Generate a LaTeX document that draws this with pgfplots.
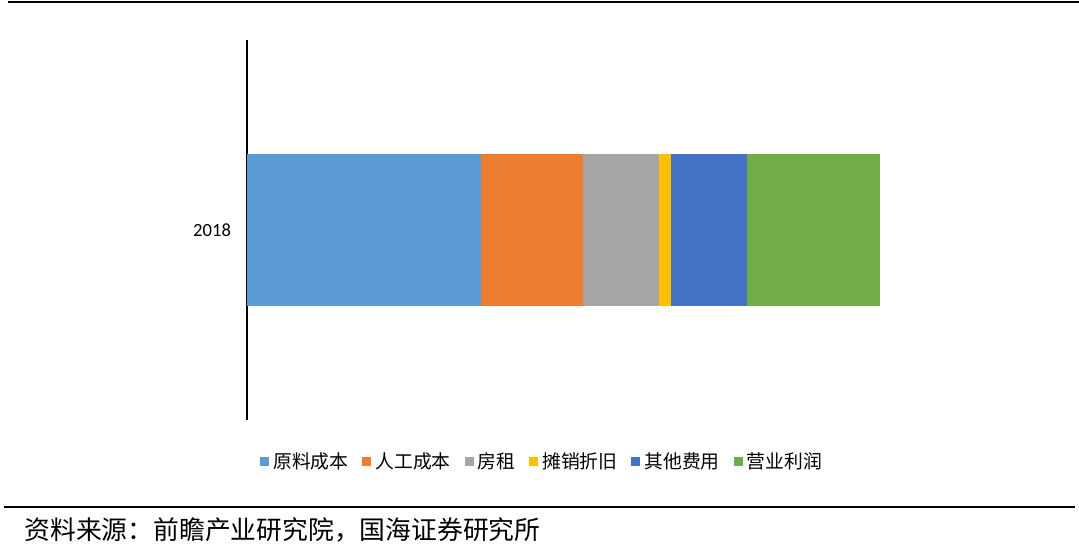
\documentclass[border=0pt]{standalone}
\usepackage{pgfplots}
\pgfplotsset{compat=1.18}
\usepackage{fontspec}
\setmainfont{Carlito}
\newfontfamily\cjk{Noto Sans CJK SC}
\definecolor{cA}{HTML}{5B9BD5}
\definecolor{cB}{HTML}{ED7D31}
\definecolor{cC}{HTML}{A5A5A5}
\definecolor{cD}{HTML}{FFC000}
\definecolor{cE}{HTML}{4472C4}
\definecolor{cF}{HTML}{70AD47}

\begin{document}
\begin{tikzpicture}
% page frame: 1079x554 px at 0.5pt per px
\useasboundingbox (0,0) rectangle (539.5pt,277pt);
\draw[line width=1.3pt] (4pt,276pt) -- (539.5pt,276pt);
\draw[line width=1.1pt] (2pt,23.4pt) -- (537.5pt,23.4pt);
\node[anchor=west, inner sep=0pt, font=\cjk\fontsize{12.9}{15}\selectfont] at (12pt,12pt)
  {资料来源：前瞻产业研究院，国海证券研究所};

\begin{axis}[
    at={(123.5pt,67pt)}, anchor=south west,
    scale only axis,
    width=380pt, height=190pt,
    xbar stacked,
    bar width=76pt,
    xmin=0, xmax=1.2,
    ymin=-0.5, ymax=0.5,
    axis x line=none,
    axis y line=left,
    y axis line style={-, line width=0.8pt},
    ytick={0}, yticklabels={2018},
    major tick length=0pt,
    yticklabel style={font=\fontsize{9.3}{10}\selectfont, xshift=-4.5pt},
    legend style={
        at={(0.3895,-0.1105)}, anchor=center,
        draw=none, fill=none,
        font=\cjk\fontsize{9.4}{11}\selectfont,
        legend columns=6,
        /tikz/every even column/.append style={column sep=5pt},
        inner sep=0pt,
    },
    legend cell align=left,
    legend image code/.code={
        \fill[#1] (0pt,-2.2pt) rectangle (4.5pt,2.3pt);
    },
    every axis legend/.append style={cells={anchor=west, xshift=-3pt}},
]
\addplot[fill=cA, draw=none] coordinates {(0.37,0)};
\addlegendentry{原料成本}
\addplot[fill=cB, draw=none] coordinates {(0.16,0)};
\addlegendentry{人工成本}
\addplot[fill=cC, draw=none] coordinates {(0.12,0)};
\addlegendentry{房租}
\addplot[fill=cD, draw=none] coordinates {(0.02,0)};
\addlegendentry{摊销折旧}
\addplot[fill=cE, draw=none] coordinates {(0.12,0)};
\addlegendentry{其他费用}
\addplot[fill=cF, draw=none] coordinates {(0.21,0)};
\addlegendentry{营业利润}
\end{axis}
\end{tikzpicture}
\end{document}
